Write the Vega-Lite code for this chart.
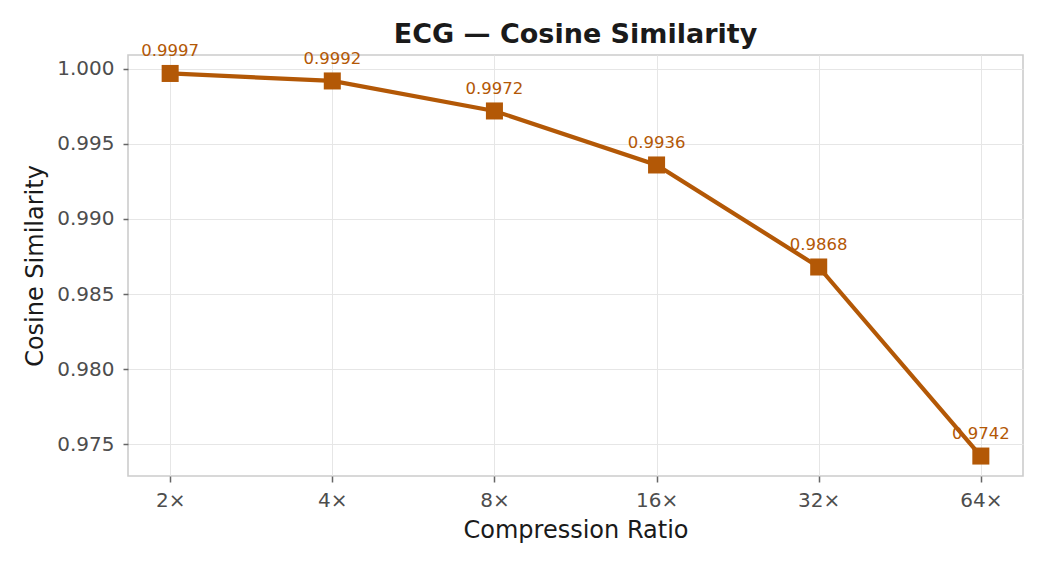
{
  "$schema": "https://vega.github.io/schema/vega-lite/v6.json",
  "width": 895,
  "height": 421,
  "autosize": {"type": "none"},
  "padding": {"left": 128, "top": 55, "right": 22, "bottom": 89},
  "background": "white",
  "title": {
    "text": "ECG — Cosine Similarity",
    "font": "DejaVu Sans",
    "fontSize": 27,
    "fontWeight": "bold",
    "color": "#1a1a1a",
    "anchor": "middle",
    "offset": -6
  },
  "config": {
    "view": {"stroke": "#cccccc", "strokeWidth": 1.6},
    "axis": {
      "labelFont": "DejaVu Sans",
      "labelFontSize": 20,
      "labelColor": "#4d4d4d",
      "titleFont": "DejaVu Sans",
      "titleFontSize": 24,
      "titleFontWeight": "normal",
      "titleColor": "#1a1a1a",
      "tickColor": "#666666",
      "tickSize": 6,
      "tickWidth": 1.5,
      "domain": false,
      "gridColor": "#e6e6e6",
      "gridWidth": 1
    }
  },
  "data": {
    "values": [
      {"ratio": "2×", "cos": 0.9997},
      {"ratio": "4×", "cos": 0.9992},
      {"ratio": "8×", "cos": 0.9972},
      {"ratio": "16×", "cos": 0.9936},
      {"ratio": "32×", "cos": 0.9868},
      {"ratio": "64×", "cos": 0.9742}
    ]
  },
  "encoding": {
    "x": {
      "field": "ratio",
      "type": "ordinal",
      "sort": null,
      "scale": {"type": "point", "padding": 0.26},
      "axis": {"title": "Compression Ratio", "labelAngle": 0, "grid": true, "labelPadding": 8, "titlePadding": 8}
    },
    "y": {
      "field": "cos",
      "type": "quantitative",
      "scale": {"domain": [0.97287, 1.00093], "nice": false, "zero": false},
      "axis": {"title": "Cosine Similarity", "values": [0.975, 0.98, 0.985, 0.99, 0.995, 1.0], "format": ".3f", "tickSize": 5, "labelPadding": 9, "titlePadding": 9}
    }
  },
  "layer": [
    {"mark": {"type": "line", "color": "#b35806", "strokeWidth": 4.2}},
    {"mark": {"type": "square", "color": "#b35806", "filled": true, "opacity": 1, "size": 290}},
    {
      "mark": {"type": "text", "color": "#b35806", "font": "DejaVu Sans", "fontSize": 16.5, "baseline": "bottom", "dy": -14},
      "encoding": {"text": {"field": "cos", "type": "quantitative", "format": ".4f"}}
    }
  ]
}
